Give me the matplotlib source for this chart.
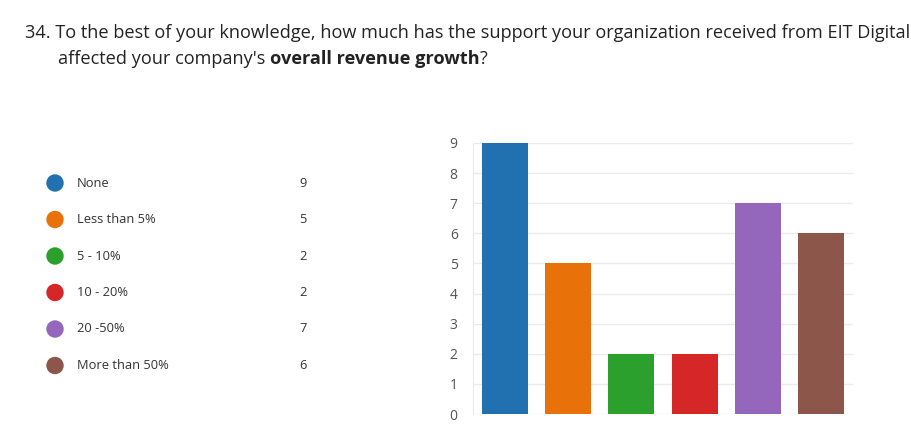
import matplotlib.pyplot as plt
from matplotlib.patches import Circle

categories = ["None", "Less than 5%", "5 - 10%", "10 - 20%", "20 -50%", "More than 50%"]
counts = [9, 5, 2, 2, 7, 6]
colors = ["#2171b0", "#e8710a", "#2ca02c", "#d62728", "#9467bd", "#8c564b"]

title_line1 = "34. To the best of your knowledge, how much has the support your organization received from EIT Digital"
title_pre = "affected your company's "
title_bold = "overall revenue growth"
title_post = "?"

plt.rcParams["font.family"] = ["Open Sans", "DejaVu Sans"]

W, H = 911, 428
fig = plt.figure(figsize=(W / 100, H / 100), dpi=100)
fig.patch.set_facecolor("white")

# full-figure overlay in pixel units for title and legend
ov = fig.add_axes([0, 0, 1, 1])
ov.set_xlim(0, W)
ov.set_ylim(H, 0)
ov.axis("off")

ov.text(25, 33, title_line1, fontsize=13.1, color="#222222", va="center", ha="left")

renderer = fig.canvas.get_renderer()
x = 58
for txt, weight in [(title_pre, "normal"), (title_bold, "bold"), (title_post, "normal")]:
    t = ov.text(x, 59, txt, fontsize=13.1, color="#222222", va="center", ha="left",
                fontweight=weight)
    bb = t.get_window_extent(renderer=renderer)
    x += bb.width

# legend rows with counts
row0, pitch = 183, 36.5
for i, (cat, n, c) in enumerate(zip(categories, counts, colors)):
    y = row0 + i * pitch
    ov.add_patch(Circle((55, y), 8.7, color=c, ec="none"))
    ov.text(77, y, cat, fontsize=9.3, color="#333333", va="center", ha="left")
    ov.text(303, y, str(n), fontsize=9.3, color="#333333", va="center", ha="center")

# bar chart
ax = fig.add_axes([473 / W, (H - 414) / H, 380 / W, 271 / H])
xs = range(len(categories))
ax.bar(xs, counts, width=0.73, color=colors, zorder=3)
ax.set_xlim(-0.5, len(categories) - 0.5)
ax.set_ylim(0, 9)
ax.set_yticks(range(0, 10))
ax.set_xticks([])
ax.grid(axis="y", color="#ebebeb", linewidth=1, zorder=0)
for side in ["top", "right", "bottom"]:
    ax.spines[side].set_visible(False)
ax.spines["left"].set_color("#ebebeb")
ax.tick_params(axis="y", length=0, pad=11, labelsize=10, labelcolor="#555555")

fig.savefig("out.png", dpi=100, facecolor="white")
